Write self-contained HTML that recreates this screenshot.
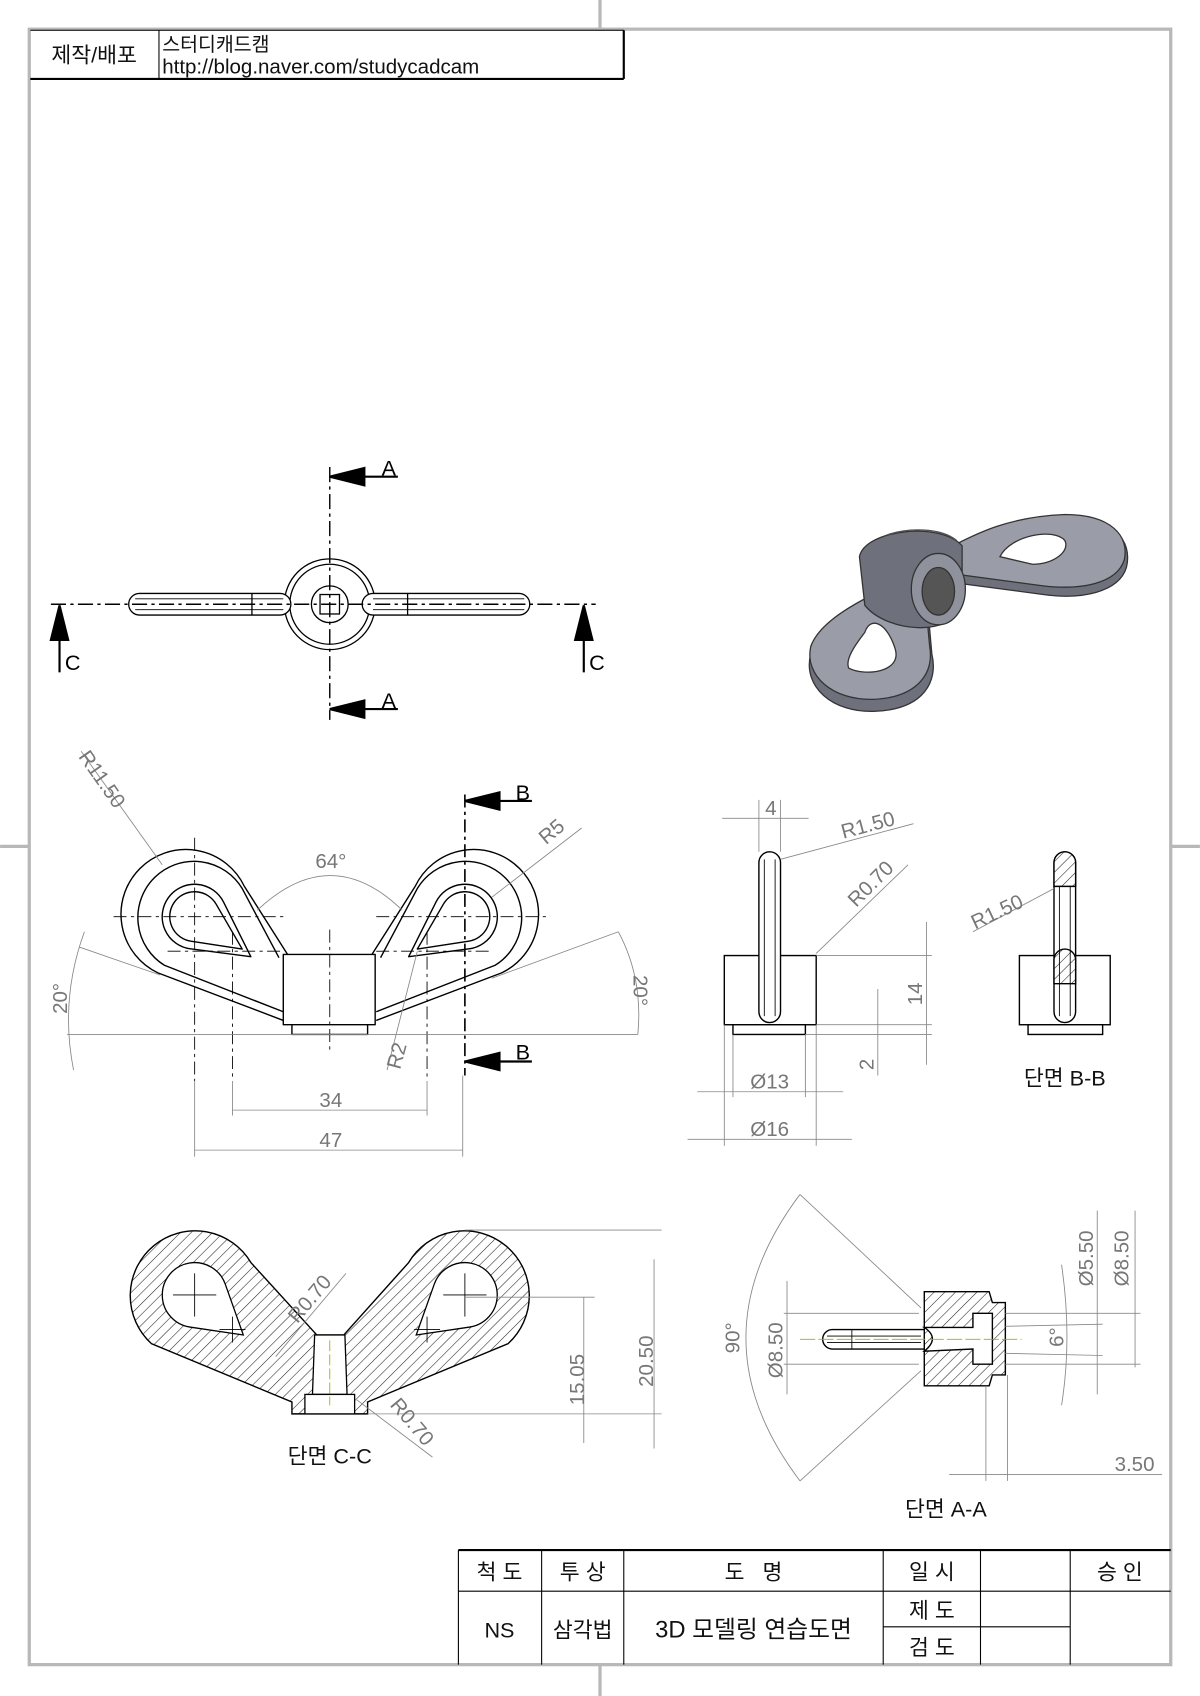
<!DOCTYPE html>
<html><head><meta charset="utf-8"><style>
html,body{margin:0;padding:0;background:#fff}
svg{display:block}
text{font-family:"Liberation Sans","Noto Sans CJK KR",sans-serif}
</style></head><body>
<svg width="1200" height="1696" viewBox="0 0 1110 1569" xmlns="http://www.w3.org/2000/svg">
<defs>
<pattern id="h" width="7" height="7" patternUnits="userSpaceOnUse" patternTransform="rotate(45)">
<rect width="7" height="7" fill="#fff"/><line x1="0" y1="0" x2="0" y2="7" stroke="#222" stroke-width="1"/></pattern>
</defs>
<rect x="27" y="27" width="1056" height="1513" fill="none" stroke="#b8b8b8" stroke-width="3"/>
<g stroke="#b8b8b8" stroke-width="3">
<line x1="555" y1="0" x2="555" y2="27"/><line x1="555" y1="1540" x2="555" y2="1569"/>
<line x1="0" y1="783" x2="27" y2="783"/><line x1="1083" y1="783" x2="1110" y2="783"/>
</g>
<g stroke="#000" fill="none">
<line x1="28" y1="28" x2="577" y2="28" stroke-width="1"/>
<line x1="577" y1="28" x2="577" y2="73" stroke-width="2"/>
<line x1="28" y1="73" x2="577" y2="73" stroke-width="2"/>
<line x1="147" y1="28" x2="147" y2="73" stroke-width="1"/>
</g>
<text x="87" y="58" font-size="20" text-anchor="middle" fill="#111">제작/배포</text>
<text x="150" y="47" font-size="18" fill="#111">스터디캐드캠</text>
<text x="150" y="68" font-size="19" fill="#111">http://blog.naver.com/studycadcam</text>

<g stroke="#000" fill="none" stroke-width="1">
<line x1="424" y1="1434" x2="1083" y2="1434" stroke-width="2"/>
<line x1="424" y1="1434" x2="424" y2="1540"/>
<line x1="424" y1="1472" x2="1083" y2="1472"/>
<line x1="501" y1="1434" x2="501" y2="1540"/>
<line x1="577" y1="1434" x2="577" y2="1540"/>
<line x1="817" y1="1434" x2="817" y2="1540"/>
<line x1="907" y1="1434" x2="907" y2="1540"/>
<line x1="990" y1="1434" x2="990" y2="1540"/>
<line x1="817" y1="1505" x2="990" y2="1505"/>
</g>
<g font-size="20" fill="#111" text-anchor="middle">
<text x="462" y="1461">척 도</text><text x="539" y="1461">투 상</text>
<text x="697" y="1461">도 &#160;&#160;명</text><text x="862" y="1461">일 시</text>
<text x="1036" y="1461">승 인</text>
<text x="462" y="1515">NS</text><text x="539" y="1515">삼각법</text>
<text x="697" y="1515" font-size="22">3D 모델링 연습도면</text>
<text x="862" y="1497">제 도</text><text x="862" y="1531">검 도</text>
</g>

<g stroke="#000" stroke-width="1.2" fill="#fff">
<circle cx="305" cy="559" r="42"/><circle cx="305" cy="559" r="37"/>
<circle cx="305" cy="559" r="17"/><rect x="296" y="550" width="18" height="18"/>
<rect x="119" y="549" width="150" height="20" rx="10"/><line x1="233" y1="549" x2="233" y2="569"/>
<rect x="335" y="549" width="155" height="20" rx="10"/><line x1="377" y1="549" x2="377" y2="569"/>
<line x1="125" y1="554" x2="262" y2="554" stroke-width="0.8"/><line x1="125" y1="564" x2="262" y2="564" stroke-width="0.8"/>
<line x1="345" y1="554" x2="485" y2="554" stroke-width="0.8"/><line x1="345" y1="564" x2="485" y2="564" stroke-width="0.8"/>
</g>
<g stroke="#000" stroke-width="1.3" stroke-dasharray="14,4,3,4" fill="none">
<line x1="47" y1="559" x2="551" y2="559"/><line x1="305" y1="432" x2="305" y2="666"/>
</g>
<g fill="#000" stroke="#000" stroke-width="2">
<polygon points="305,441 337,433 337,449"/><line x1="337" y1="441" x2="368" y2="441"/>
<polygon points="305,656 337,648 337,664"/><line x1="337" y1="656" x2="368" y2="656"/>
<polygon points="55,560 47,592 63,592"/><line x1="55" y1="592" x2="55" y2="622"/>
<polygon points="540,560 532,592 548,592"/><line x1="540" y1="592" x2="540" y2="622"/>
</g>
<g font-size="20" fill="#000"><text x="353" y="440">A</text><text x="353" y="655">A</text>
<text x="60" y="620">C</text><text x="545" y="620">C</text></g>

<g stroke="#333" stroke-width="1.2">
<path d="M870,515 C900,495 930,480 985,478 C1030,478 1048,500 1042,525 C1035,548 1000,555 965,550 L890,540 Z" fill="#6e717b"/>
<path d="M872,510 C905,492 935,478 985,476 C1028,476 1045,496 1040,518 C1033,540 1000,546 965,542 L890,532 Z" fill="#9a9da7"/>
<path d="M925,515 C935,495 975,488 985,500 C990,510 975,522 955,522 Z" fill="#fff"/>
<path d="M840,540 C810,555 760,575 750,605 C742,635 770,660 810,658 C855,656 868,630 862,605 L858,560 Z" fill="#6e717b"/>
<path d="M838,535 C808,550 760,570 750,598 C744,625 770,648 808,647 C850,645 864,622 860,598 L856,555 Z" fill="#9a9da7"/>
<path d="M800,585 C805,570 820,575 828,600 C835,622 800,626 785,618 C782,610 790,598 800,585 Z" fill="#fff"/>
<path d="M795,515 C800,490 870,482 890,505 L890,560 C880,590 820,585 800,560 Z" fill="#6e717b"/>
<ellipse cx="868" cy="545" rx="25" ry="33" fill="#8f929c"/>
<ellipse cx="868" cy="547" rx="15" ry="22" fill="#555"/>
<path d="M820,495 C840,488 870,488 885,500" fill="none" stroke="#555"/>
</g>

<g stroke="#000" stroke-width="1.3" fill="none" stroke-linejoin="round">
<path d="M262,944 L146,900 A60,60 0 1 1 226,820 L266,883"/>
<path d="M262,936 L152,893 A52,52 0 1 1 224,822 L258,886"/>
<path d="M348,944 L464,900 A60,60 0 1 0 384,820 L344,883"/>
<path d="M348,936 L458,893 A52,52 0 1 0 386,822 L352,886"/>
<path d="M206.8,834.6 L232,885 L176.1,877.8 A30,30 0 1 1 206.8,834.6 Z"/>
<path d="M199.9,836.5 L224,878 L176.5,870.7 A23,23 0 1 1 199.9,836.5 Z"/>
<path d="M403.2,834.6 L378,885 L433.9,877.8 A30,30 0 1 0 403.2,834.6 Z"/>
<path d="M410.1,836.5 L386,878 L433.5,870.7 A23,23 0 1 0 410.1,836.5 Z"/>
<rect x="262" y="883" width="85" height="65" fill="#fff"/>
<rect x="270" y="948" width="70" height="9" fill="#fff"/>
</g>
<g stroke="#000" stroke-width="0.8" stroke-dasharray="12,4,3,4" fill="none">
<line x1="105" y1="848" x2="262" y2="848"/><line x1="348" y1="848" x2="505" y2="848"/>
<line x1="155" y1="880" x2="262" y2="880"/><line x1="348" y1="880" x2="455" y2="880"/>
<line x1="180" y1="775" x2="180" y2="1000"/><line x1="215" y1="862" x2="215" y2="1000"/>
<line x1="395" y1="862" x2="395" y2="1000"/><line x1="305" y1="860" x2="305" y2="975"/>
</g>
<line x1="430" y1="735" x2="430" y2="995" stroke="#000" stroke-width="1.5" stroke-dasharray="12,4,3,4"/>
<g fill="#000" stroke="#000" stroke-width="2">
<polygon points="430,741 462,733 462,749"/><line x1="462" y1="741" x2="492" y2="741"/>
<polygon points="430,982 462,974 462,990"/><line x1="462" y1="982" x2="492" y2="982"/>
</g>
<g font-size="20" fill="#000"><text x="477" y="740">B</text><text x="477" y="980">B</text></g>
<g stroke="#888" stroke-width="0.8" fill="none">
<line x1="62" y1="957" x2="590" y2="957"/>
<line x1="180" y1="1000" x2="180" y2="1070"/><line x1="428" y1="995" x2="428" y2="1070"/>
<line x1="215" y1="1000" x2="215" y2="1032"/><line x1="395" y1="1000" x2="395" y2="1032"/>
<line x1="180" y1="1064" x2="428" y2="1064"/><line x1="215" y1="1027" x2="395" y2="1027"/>
<path d="M238,842 Q306,778 372,842"/>
<line x1="75" y1="695" x2="150" y2="800"/>
<line x1="538" y1="766" x2="455" y2="830"/>
<line x1="358" y1="990" x2="386" y2="880"/>
<line x1="73" y1="876" x2="148" y2="902"/><path d="M78,862 Q55,925 68,990"/>
<line x1="572" y1="862" x2="455" y2="905"/><path d="M572,862 Q595,905 590,957"/>
</g>
<g font-size="19" fill="#777">
<text x="306" y="1024" text-anchor="middle">34</text><text x="306" y="1061" text-anchor="middle">47</text>
<text x="306" y="803" text-anchor="middle">64°</text>
<text x="72" y="700" transform="rotate(55 72 700)">R11.50</text>
<text x="505" y="782" transform="rotate(-40 505 782)">R5</text>
<text x="370" y="990" transform="rotate(-75 370 990)">R2</text>
<text x="62" y="938" transform="rotate(-90 62 938)">20°</text>
<text x="586" y="902" transform="rotate(90 586 902)">20°</text>
</g>

<g stroke="#000" stroke-width="1.3" fill="#fff">
<rect x="670" y="884" width="85" height="64"/><rect x="678" y="948" width="67" height="9"/>
<rect x="702" y="788" width="20" height="158" rx="10"/>
<line x1="707" y1="795" x2="707" y2="940" stroke-width="0.8"/><line x1="717" y1="795" x2="717" y2="940" stroke-width="0.8"/>
</g>
<g stroke="#888" stroke-width="0.8" fill="none">
<line x1="702" y1="740" x2="702" y2="788"/><line x1="722" y1="740" x2="722" y2="788"/>
<line x1="668" y1="757" x2="748" y2="757"/>
<line x1="722" y1="795" x2="845" y2="762"/><line x1="755" y1="882" x2="840" y2="800"/>
<line x1="755" y1="884" x2="862" y2="884"/><line x1="755" y1="948" x2="862" y2="948"/><line x1="745" y1="957" x2="862" y2="957"/>
<line x1="857" y1="853" x2="857" y2="985"/><line x1="812" y1="915" x2="812" y2="995"/>
<line x1="678" y1="957" x2="678" y2="1015"/><line x1="745" y1="957" x2="745" y2="1015"/>
<line x1="670" y1="948" x2="670" y2="1060"/><line x1="755" y1="948" x2="755" y2="1060"/>
<line x1="645" y1="1010" x2="780" y2="1010"/><line x1="636" y1="1054" x2="788" y2="1054"/>
</g>
<g font-size="19" fill="#777">
<text x="713" y="754" text-anchor="middle">4</text>
<text x="780" y="776" transform="rotate(-15 780 776)">R1.50</text>
<text x="792" y="840" transform="rotate(-45 792 840)">R0.70</text>
<text x="853" y="930" transform="rotate(-90 853 930)">14</text>
<text x="808" y="990" transform="rotate(-90 808 990)">2</text>
<text x="712" y="1007" text-anchor="middle">Ø13</text>
<text x="712" y="1051" text-anchor="middle">Ø16</text>
</g>

<g stroke="#000" stroke-width="1.3">
<rect x="943" y="884" width="84" height="64" fill="#fff"/><rect x="951" y="948" width="69" height="9" fill="#fff"/>
<rect x="975" y="788" width="20" height="158" rx="10" fill="#fff"/>
<path d="M975,820 L975,798 A10,10 0 0 1 995,798 L995,820 Z" fill="url(#h)"/>
<path d="M975,910 L975,888 A10,10 0 0 1 995,888 L995,910 Z" fill="url(#h)"/>
<line x1="980" y1="820" x2="980" y2="940" stroke-width="0.8"/><line x1="990" y1="820" x2="990" y2="940" stroke-width="0.8"/>
</g>
<line x1="975" y1="822" x2="900" y2="862" stroke="#888" stroke-width="0.8"/>
<text x="902" y="860" font-size="19" fill="#777" transform="rotate(-25 902 860)">R1.50</text>
<text x="985" y="1004" font-size="20" fill="#111" text-anchor="middle">단면 B-B</text>

<path d="M232,1168 L293,1235 L318,1235 L378,1168 A60,60 0 1 1 470,1243 L340,1297 L340,1308 L270,1308 L270,1297 L140,1243 A60,60 0 1 1 232,1168 Z" fill="url(#h)" stroke="#000" stroke-width="1.3"/>
<g stroke="#000" stroke-width="1.2" fill="#fff">
<path d="M208.3,1187.9 L225,1235 L175.6,1227.7 A30,30 0 1 1 208.3,1187.9 Z"/>
<path d="M401.7,1187.9 L385,1235 L434.4,1227.7 A30,30 0 1 0 401.7,1187.9 Z"/>
<path d="M291,1235 L319,1235 L321,1290 L289,1290 Z"/>
<rect x="282" y="1290" width="46" height="18"/>
</g>
<g stroke="#000" stroke-width="0.8">
<line x1="160" y1="1198" x2="200" y2="1198"/><line x1="180" y1="1178" x2="180" y2="1218"/>
<line x1="203" y1="1230" x2="227" y2="1230"/><line x1="215" y1="1218" x2="215" y2="1242"/>
<line x1="410" y1="1198" x2="450" y2="1198"/><line x1="430" y1="1178" x2="430" y2="1218"/>
<line x1="383" y1="1230" x2="407" y2="1230"/><line x1="395" y1="1218" x2="395" y2="1242"/>
</g>
<line x1="305" y1="1240" x2="305" y2="1300" stroke="#aa0" stroke-width="0.8" stroke-dasharray="10,3"/>
<g stroke="#888" stroke-width="0.8" fill="none">
<line x1="255" y1="1255" x2="320" y2="1178"/><line x1="330" y1="1295" x2="400" y2="1348"/>
<line x1="430" y1="1200" x2="550" y2="1200"/><line x1="340" y1="1308" x2="612" y2="1308"/>
<line x1="430" y1="1138" x2="612" y2="1138"/>
<line x1="540" y1="1200" x2="540" y2="1335"/><line x1="605" y1="1165" x2="605" y2="1340"/>
</g>
<g font-size="19" fill="#777">
<text x="275" y="1225" transform="rotate(-50 275 1225)">R0.70</text>
<text x="360" y="1300" transform="rotate(50 360 1300)">R0.70</text>
<text x="540" y="1300" transform="rotate(-90 540 1300)">15.05</text>
<text x="604" y="1283" transform="rotate(-90 604 1283)">20.50</text>
</g>
<text x="305" y="1354" font-size="20" fill="#111" text-anchor="middle">단면 C-C</text>

<g stroke="#000" stroke-width="1.3">
<path d="M855,1195 L915,1195 L918,1205 L930,1205 L930,1272 L918,1272 L915,1282 L855,1282 Z" fill="url(#h)"/>
<path d="M855,1228 Q870,1238 855,1250 L855,1250 L900,1248 L900,1262 L918,1262 L918,1215 L900,1215 L900,1228 Z" fill="#fff"/>
<path d="M770,1230 L855,1230 L855,1248 L770,1248 A9,9 0 0 1 770,1230 Z" fill="#fff"/>
<line x1="788" y1="1230" x2="788" y2="1248" stroke-width="0.8"/>
<line x1="765" y1="1236" x2="852" y2="1236" stroke-width="0.8"/><line x1="765" y1="1242" x2="852" y2="1242" stroke-width="0.8"/>
</g>
<line x1="740" y1="1239" x2="945" y2="1239" stroke="#aa0" stroke-width="0.8" stroke-dasharray="14,3"/>
<g stroke="#888" stroke-width="0.8" fill="none">
<line x1="740" y1="1105" x2="852" y2="1210"/><line x1="740" y1="1370" x2="852" y2="1268"/>
<path d="M740,1105 Q640,1238 740,1370"/>
<line x1="725" y1="1215" x2="850" y2="1215"/><line x1="725" y1="1262" x2="850" y2="1262"/>
<line x1="728" y1="1185" x2="728" y2="1290"/>
<line x1="930" y1="1215" x2="1055" y2="1215"/><line x1="930" y1="1262" x2="1055" y2="1262"/>
<line x1="930" y1="1227" x2="1020" y2="1225"/><line x1="930" y1="1252" x2="1020" y2="1254"/>
<line x1="1015" y1="1120" x2="1015" y2="1290"/><line x1="1050" y1="1120" x2="1050" y2="1265"/>
<path d="M982,1170 Q992,1238 982,1300"/>
<line x1="912" y1="1282" x2="912" y2="1370"/><line x1="932" y1="1272" x2="932" y2="1370"/>
<line x1="878" y1="1364" x2="1075" y2="1364"/>
</g>
<g font-size="19" fill="#777">
<text x="684" y="1252" transform="rotate(-90 684 1252)">90°</text>
<text x="724" y="1275" transform="rotate(-90 724 1275)">Ø8.50</text>
<text x="984" y="1246" transform="rotate(-90 984 1246)">6°</text>
<text x="1011" y="1190" transform="rotate(-90 1011 1190)">Ø5.50</text>
<text x="1044" y="1190" transform="rotate(-90 1044 1190)">Ø8.50</text>
<text x="1068" y="1361" text-anchor="end">3.50</text>
</g>
<text x="875" y="1403" font-size="20" fill="#111" text-anchor="middle">단면 A-A</text>
</svg>
</body></html>
